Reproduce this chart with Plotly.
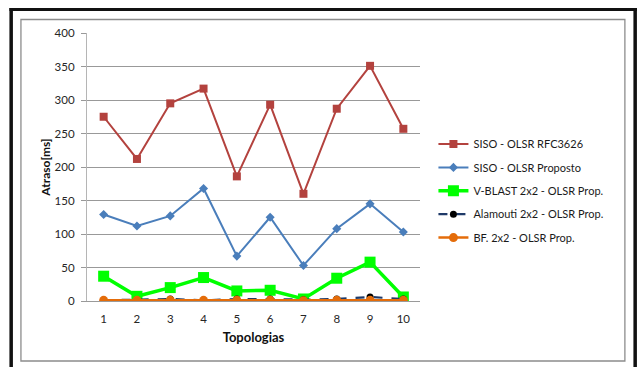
import plotly.graph_objects as go

# Topologies on the category axis
topologias = ["1", "2", "3", "4", "5", "6", "7", "8", "9", "10"]

# Delay (ms) per topology for each configuration
siso_rfc3626 = [275, 212, 295, 317, 186, 293, 160, 287, 351, 257]
siso_proposto = [129, 112, 127, 168, 67, 125, 53, 108, 145, 103]
vblast_2x2 = [37, 7, 20, 35, 15, 16, 3, 34, 58, 6]
alamouti_2x2 = [1, 2, 3, 1, 3, 3, 2, 3, 6, 3]
bf_2x2 = [1, 1, 1, 1, 1, 1, 0.5, 1, 1, 1]

y_ticks = [0, 50, 100, 150, 200, 250, 300, 350, 400]

W, H = 638, 367
L, R, T, B = 87.4, 419.6, 33, 301  # plot area edges in pixels


def px(x):
    return (x - L) / (R - L)


def py(y):
    return (B - y) / (B - T)


fig = go.Figure()

series = [
    ("SISO - OLSR RFC3626", siso_rfc3626, dict(color="#B3423E", width=2), dict(symbol="square", size=8, color="#B3423E")),
    ("SISO - OLSR Proposto", siso_proposto, dict(color="#4A7EBB", width=2), dict(symbol="diamond", size=7, color="#4A7EBB")),
    ("V-BLAST 2x2 - OLSR Prop.", vblast_2x2, dict(color="#00FF00", width=3.5), dict(symbol="square", size=11, color="#00FF00")),
    ("Alamouti 2x2 - OLSR Prop.", alamouti_2x2, dict(color="#1F3A68", width=2.2, dash="dash"), dict(symbol="circle", size=7, color="#000000")),
    ("BF. 2x2 - OLSR Prop.", bf_2x2, dict(color="#E46C0A", width=2.5), dict(symbol="circle", size=9, color="#E46C0A")),
]

for i, (name, vals, line, marker) in enumerate(series):
    fig.add_trace(go.Scatter(
        x=topologias, y=vals, name=name, mode="lines+markers",
        line=line, marker=marker, legendgroup=f"g{i}",
    ))

shapes = [
    # outer black frame (top, left, right)
    dict(type="rect", xref="paper", yref="paper", x0=px(10), x1=px(636), y0=py(11), y1=py(8),
         fillcolor="#111111", line=dict(width=0), layer="above"),
    dict(type="rect", xref="paper", yref="paper", x0=px(10), x1=px(13.5), y0=py(367), y1=py(8),
         fillcolor="#111111", line=dict(width=0), layer="above"),
    dict(type="rect", xref="paper", yref="paper", x0=px(632.5), x1=px(636), y0=py(367), y1=py(8),
         fillcolor="#111111", line=dict(width=0), layer="above"),
    # inner gray chart border
    dict(type="rect", xref="paper", yref="paper", x0=px(21.5), x1=px(624), y0=py(361), y1=py(19.5),
         fillcolor="rgba(0,0,0,0)", line=dict(color="#8C8C8C", width=1.3), layer="below"),
]

fig.update_layout(
    width=W, height=H,
    margin=dict(l=L, r=W - R, t=T, b=H - B),
    paper_bgcolor="white", plot_bgcolor="white",
    font=dict(family="Lato, 'Open Sans', sans-serif", size=11, color="#262626"),
    shapes=shapes,
    showlegend=True,
    legend=dict(
        x=px(433), xanchor="left", y=py(129.5), yanchor="top",
        font=dict(size=11, color="#1a1a1a"), tracegroupgap=4.4,
        bgcolor="rgba(0,0,0,0)", itemwidth=30,
    ),
)

fig.update_xaxes(
    type="category", range=[-0.5, 9.5],
    showgrid=False, showline=True, linecolor="#9A9A9A", linewidth=1.2,
    ticks="", ticklabelstandoff=7,
    tickfont=dict(size=11.5, color="#262626"),
    title=dict(text="<b>Topologias</b>", font=dict(size=13, color="#111111"), standoff=8),
    zeroline=False,
)

fig.update_yaxes(
    range=[0, 400], tickvals=y_ticks, ticktext=[str(v) for v in y_ticks],
    showgrid=True, gridcolor="#999999", gridwidth=1.2,
    showline=True, linecolor="#B5B5B5", linewidth=1.2,
    ticks="outside", ticklen=5, tickcolor="#999999", ticklabelstandoff=4,
    tickfont=dict(size=11.5, color="#262626"),
    title=dict(text="<b>Atraso[ms]</b>", font=dict(size=12, color="#111111"), standoff=1),
    zeroline=False,
)

fig.write_html("out.html")
